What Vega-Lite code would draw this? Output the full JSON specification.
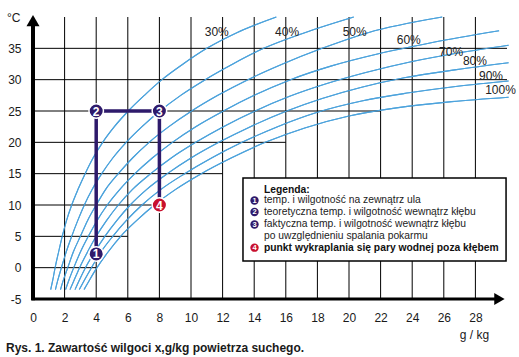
{
  "$schema": "https://vega.github.io/schema/vega-lite/v6.json",
  "width": 474,
  "height": 282,
  "autosize": {"type": "none"},
  "padding": {"left": 33, "top": 17, "right": 12, "bottom": 58},
  "background": "white",
  "config": {
    "view": {"stroke": null},
    "font": "Liberation Sans",
    "text": {"font": "Liberation Sans"}
  },
  "resolve": {"axis": {"x": "independent", "y": "independent"}},
  "datasets": {
    "curves": [
      {"rh": "30%", "x": 1.12, "t": -3.5}, {"rh": "30%", "x": 1.25, "t": -2}, {"rh": "30%", "x": 1.4, "t": 0}, {"rh": "30%", "x": 1.62, "t": 2.5}, {"rh": "30%", "x": 1.85, "t": 5}, {"rh": "30%", "x": 2.12, "t": 7.5}, {"rh": "30%", "x": 2.45, "t": 10}, {"rh": "30%", "x": 2.85, "t": 12.5}, {"rh": "30%", "x": 3.3, "t": 15}, {"rh": "30%", "x": 3.8, "t": 17.5}, {"rh": "30%", "x": 4.41, "t": 20}, {"rh": "30%", "x": 5.15, "t": 22.5}, {"rh": "30%", "x": 6.03, "t": 25}, {"rh": "30%", "x": 7.05, "t": 27.5}, {"rh": "30%", "x": 8.16, "t": 30}, {"rh": "30%", "x": 9.5, "t": 32.5}, {"rh": "30%", "x": 11.0, "t": 35}, {"rh": "30%", "x": 12.9, "t": 37.5}, {"rh": "30%", "x": 15.4, "t": 40},
      {"rh": "40%", "x": 1.42, "t": -3.5}, {"rh": "40%", "x": 1.57, "t": -2}, {"rh": "40%", "x": 1.8, "t": 0}, {"rh": "40%", "x": 2.1, "t": 2.5}, {"rh": "40%", "x": 2.45, "t": 5}, {"rh": "40%", "x": 2.83, "t": 7.5}, {"rh": "40%", "x": 3.25, "t": 10}, {"rh": "40%", "x": 3.75, "t": 12.5}, {"rh": "40%", "x": 4.35, "t": 15}, {"rh": "40%", "x": 5.05, "t": 17.5}, {"rh": "40%", "x": 5.9, "t": 20}, {"rh": "40%", "x": 6.9, "t": 22.5}, {"rh": "40%", "x": 8.03, "t": 25}, {"rh": "40%", "x": 9.35, "t": 27.5}, {"rh": "40%", "x": 10.9, "t": 30}, {"rh": "40%", "x": 12.65, "t": 32.5}, {"rh": "40%", "x": 14.6, "t": 35}, {"rh": "40%", "x": 17.2, "t": 37.5}, {"rh": "40%", "x": 20.3, "t": 40},
      {"rh": "50%", "x": 1.74, "t": -3.5}, {"rh": "50%", "x": 1.92, "t": -2}, {"rh": "50%", "x": 2.2, "t": 0}, {"rh": "50%", "x": 2.55, "t": 2.5}, {"rh": "50%", "x": 3.0, "t": 5}, {"rh": "50%", "x": 3.45, "t": 7.5}, {"rh": "50%", "x": 4.0, "t": 10}, {"rh": "50%", "x": 4.6, "t": 12.5}, {"rh": "50%", "x": 5.4, "t": 15}, {"rh": "50%", "x": 6.3, "t": 17.5}, {"rh": "50%", "x": 7.35, "t": 20}, {"rh": "50%", "x": 8.6, "t": 22.5}, {"rh": "50%", "x": 10.04, "t": 25}, {"rh": "50%", "x": 11.7, "t": 27.5}, {"rh": "50%", "x": 13.6, "t": 30}, {"rh": "50%", "x": 15.8, "t": 32.5}, {"rh": "50%", "x": 18.3, "t": 35}, {"rh": "50%", "x": 21.2, "t": 37.5}, {"rh": "50%", "x": 25.9, "t": 40},
      {"rh": "60%", "x": 2.06, "t": -3.5}, {"rh": "60%", "x": 2.27, "t": -2}, {"rh": "60%", "x": 2.58, "t": 0}, {"rh": "60%", "x": 3.0, "t": 2.5}, {"rh": "60%", "x": 3.5, "t": 5}, {"rh": "60%", "x": 4.05, "t": 7.5}, {"rh": "60%", "x": 4.7, "t": 10}, {"rh": "60%", "x": 5.5, "t": 12.5}, {"rh": "60%", "x": 6.45, "t": 15}, {"rh": "60%", "x": 7.55, "t": 17.5}, {"rh": "60%", "x": 8.82, "t": 20}, {"rh": "60%", "x": 10.3, "t": 22.5}, {"rh": "60%", "x": 12.05, "t": 25}, {"rh": "60%", "x": 14.0, "t": 27.5}, {"rh": "60%", "x": 16.3, "t": 30}, {"rh": "60%", "x": 18.9, "t": 32.2}, {"rh": "60%", "x": 21.8, "t": 34.1}, {"rh": "60%", "x": 25.2, "t": 35.9}, {"rh": "60%", "x": 29.5, "t": 37.8},
      {"rh": "70%", "x": 2.34, "t": -3.5}, {"rh": "70%", "x": 2.6, "t": -2}, {"rh": "70%", "x": 2.95, "t": 0}, {"rh": "70%", "x": 3.45, "t": 2.5}, {"rh": "70%", "x": 4.0, "t": 5}, {"rh": "70%", "x": 4.65, "t": 7.5}, {"rh": "70%", "x": 5.4, "t": 10}, {"rh": "70%", "x": 6.3, "t": 12.5}, {"rh": "70%", "x": 7.45, "t": 15}, {"rh": "70%", "x": 8.75, "t": 17.5}, {"rh": "70%", "x": 10.3, "t": 20}, {"rh": "70%", "x": 12.05, "t": 22.5}, {"rh": "70%", "x": 14.06, "t": 25}, {"rh": "70%", "x": 16.2, "t": 27.3}, {"rh": "70%", "x": 18.5, "t": 29.3}, {"rh": "70%", "x": 21.0, "t": 31.1}, {"rh": "70%", "x": 24.0, "t": 32.9}, {"rh": "70%", "x": 27.0, "t": 34.3}, {"rh": "70%", "x": 30.1, "t": 35.5},
      {"rh": "80%", "x": 2.66, "t": -3.5}, {"rh": "80%", "x": 2.93, "t": -2}, {"rh": "80%", "x": 3.32, "t": 0}, {"rh": "80%", "x": 3.9, "t": 2.5}, {"rh": "80%", "x": 4.55, "t": 5}, {"rh": "80%", "x": 5.3, "t": 7.5}, {"rh": "80%", "x": 6.15, "t": 10}, {"rh": "80%", "x": 7.2, "t": 12.5}, {"rh": "80%", "x": 8.5, "t": 15}, {"rh": "80%", "x": 10.0, "t": 17.5}, {"rh": "80%", "x": 11.76, "t": 20}, {"rh": "80%", "x": 13.76, "t": 22.5}, {"rh": "80%", "x": 16.06, "t": 25}, {"rh": "80%", "x": 18.3, "t": 27}, {"rh": "80%", "x": 20.8, "t": 28.8}, {"rh": "80%", "x": 23.5, "t": 30.3}, {"rh": "80%", "x": 26.8, "t": 31.6}, {"rh": "80%", "x": 30.1, "t": 32.7},
      {"rh": "90%", "x": 2.93, "t": -3.5}, {"rh": "90%", "x": 3.25, "t": -2}, {"rh": "90%", "x": 3.7, "t": 0}, {"rh": "90%", "x": 4.3, "t": 2.5}, {"rh": "90%", "x": 5.05, "t": 5}, {"rh": "90%", "x": 5.9, "t": 7.5}, {"rh": "90%", "x": 6.9, "t": 10}, {"rh": "90%", "x": 8.1, "t": 12.5}, {"rh": "90%", "x": 9.6, "t": 15}, {"rh": "90%", "x": 11.3, "t": 17.5}, {"rh": "90%", "x": 13.23, "t": 20}, {"rh": "90%", "x": 15.48, "t": 22.5}, {"rh": "90%", "x": 18.0, "t": 24.8}, {"rh": "90%", "x": 20.8, "t": 26.6}, {"rh": "90%", "x": 23.8, "t": 27.9}, {"rh": "90%", "x": 27.0, "t": 29.0}, {"rh": "90%", "x": 30.1, "t": 29.8},
      {"rh": "100%", "x": 3.23, "t": -3.5}, {"rh": "100%", "x": 3.57, "t": -2}, {"rh": "100%", "x": 4.05, "t": 0}, {"rh": "100%", "x": 4.75, "t": 2.5}, {"rh": "100%", "x": 5.55, "t": 5}, {"rh": "100%", "x": 6.55, "t": 7.5}, {"rh": "100%", "x": 7.68, "t": 10}, {"rh": "100%", "x": 9.03, "t": 12.5}, {"rh": "100%", "x": 10.65, "t": 15}, {"rh": "100%", "x": 12.54, "t": 17.5}, {"rh": "100%", "x": 14.7, "t": 20}, {"rh": "100%", "x": 17.2, "t": 22.3}, {"rh": "100%", "x": 20.0, "t": 24.2}, {"rh": "100%", "x": 23.0, "t": 25.5}, {"rh": "100%", "x": 26.5, "t": 26.5}, {"rh": "100%", "x": 30.1, "t": 27.2}
    ],
    "vgrid": [{"x": 2}, {"x": 4}, {"x": 6}, {"x": 8}, {"x": 10}, {"x": 12}, {"x": 14}, {"x": 16}, {"x": 18}, {"x": 20}, {"x": 22}, {"x": 24}, {"x": 26}, {"x": 28}],
    "hgrid": [{"t": 0, "xe": 4}, {"t": 5, "xe": 6}, {"t": 10, "xe": 8}, {"t": 15, "xe": 12}, {"t": 20, "xe": 16}, {"t": 25, "xe": 22}, {"t": 30, "xe": 30}, {"t": 35, "xe": 30}],
    "path": [{"o": 1, "x": 4, "t": 2.2}, {"o": 2, "x": 4, "t": 25}, {"o": 3, "x": 8, "t": 25}, {"o": 4, "x": 8, "t": 10}],
    "points": [{"n": "1", "x": 4, "t": 2.2, "k": "a"}, {"n": "2", "x": 4, "t": 25, "k": "a"}, {"n": "3", "x": 8, "t": 25, "k": "a"}, {"n": "4", "x": 8, "t": 10, "k": "b"}],
    "clabels": [{"l": "30%", "x": 11.63, "t": 37.65}, {"l": "40%", "x": 16.08, "t": 37.65}, {"l": "50%", "x": 20.36, "t": 37.65}, {"l": "60%", "x": 23.78, "t": 36.33}, {"l": "70%", "x": 26.46, "t": 34.46}, {"l": "80%", "x": 27.97, "t": 32.98}, {"l": "90%", "x": 28.99, "t": 30.59}, {"l": "100%", "x": 29.59, "t": 28.35}],
    "legend": [{"n": "1", "k": "a", "t": 10.72}, {"n": "2", "k": "a", "t": 8.89}, {"n": "3", "k": "a", "t": 6.89}, {"n": "4", "k": "b", "t": 3.19}],
    "one": [{"id": 1}]
  },
  "layer": [
    {
      "data": {"name": "curves"},
      "mark": {"type": "line", "color": "#4da3dc", "strokeWidth": 1.1, "interpolate": "monotone"},
      "encoding": {
        "x": {"field": "x", "type": "quantitative", "scale": {"domain": [0, 30], "nice": false, "zero": false},
          "axis": {"values": [0, 2, 4, 6, 8, 10, 12, 14, 16, 18, 20, 22, 24, 26, 28], "domain": false, "ticks": false, "grid": false, "labelPadding": 13, "labelFontSize": 12, "labelFont": "Liberation Sans", "labelColor": "#1a1a1a", "labelFlush": false, "labelOverlap": false, "title": null}},
        "y": {"field": "t", "type": "quantitative", "scale": {"domain": [-5, 40], "nice": false, "zero": false},
          "axis": {"values": [-5, 0, 5, 10, 15, 20, 25, 30, 35], "labelExpr": "'' + datum.value", "domain": false, "ticks": false, "grid": false, "labelPadding": 12, "labelFontSize": 12, "labelFont": "Liberation Sans", "labelColor": "#1a1a1a", "labelFlush": false, "labelOverlap": false, "title": null}},
        "detail": {"field": "rh", "type": "nominal"},
        "order": {"field": "t", "type": "quantitative"}
      }
    },
    {
      "data": {"name": "vgrid"},
      "mark": {"type": "rule", "color": "black", "strokeWidth": 1},
      "encoding": {
        "x": {"field": "x", "type": "quantitative", "scale": {"domain": [0, 30], "nice": false, "zero": false}, "axis": null},
        "y": {"datum": -5, "type": "quantitative", "scale": {"domain": [-5, 40], "nice": false, "zero": false}, "axis": null},
        "y2": {"datum": 40}
      }
    },
    {
      "data": {"name": "hgrid"},
      "mark": {"type": "rule", "color": "black", "strokeWidth": 1},
      "encoding": {
        "y": {"field": "t", "type": "quantitative", "scale": {"domain": [-5, 40], "nice": false, "zero": false}, "axis": null},
        "x": {"field": "xe", "type": "quantitative", "scale": {"domain": [0, 30], "nice": false, "zero": false}, "axis": null},
        "x2": {"datum": 0}
      }
    },
    {
      "data": {"name": "curves"},
      "mark": {"type": "line", "color": "#4da3dc", "strokeWidth": 1.1, "interpolate": "monotone"},
      "encoding": {
        "x": {"field": "x", "type": "quantitative", "scale": {"domain": [0, 30], "nice": false, "zero": false}, "axis": null},
        "y": {"field": "t", "type": "quantitative", "scale": {"domain": [-5, 40], "nice": false, "zero": false}, "axis": null},
        "detail": {"field": "rh", "type": "nominal"},
        "order": {"field": "t", "type": "quantitative"}
      }
    },
    {
      "data": {"name": "clabels"},
      "mark": {"type": "text", "fontSize": 12, "color": "#222", "align": "center", "baseline": "middle"},
      "encoding": {
        "x": {"field": "x", "type": "quantitative", "scale": {"domain": [0, 30], "nice": false, "zero": false}, "axis": null},
        "y": {"field": "t", "type": "quantitative", "scale": {"domain": [-5, 40], "nice": false, "zero": false}, "axis": null},
        "text": {"field": "l", "type": "nominal"}
      }
    },
    {
      "data": {"name": "one"},
      "mark": {"type": "rule", "color": "black", "strokeWidth": 4},
      "encoding": {
        "x": {"datum": 0, "type": "quantitative", "scale": {"domain": [0, 30], "nice": false, "zero": false}, "axis": null},
        "y": {"datum": -5.2, "type": "quantitative", "scale": {"domain": [-5, 40], "nice": false, "zero": false}, "axis": null},
        "y2": {"datum": 39}
      }
    },
    {
      "data": {"name": "one"},
      "mark": {"type": "rule", "color": "black", "strokeWidth": 3},
      "encoding": {
        "y": {"datum": -5, "type": "quantitative", "scale": {"domain": [-5, 40], "nice": false, "zero": false}, "axis": null},
        "x": {"datum": -0.1, "type": "quantitative", "scale": {"domain": [0, 30], "nice": false, "zero": false}, "axis": null},
        "x2": {"datum": 29.3}
      }
    },
    {
      "data": {"name": "one"},
      "mark": {"type": "point", "shape": "triangle-up", "filled": true, "color": "black", "size": 170, "opacity": 1},
      "encoding": {
        "x": {"datum": 0, "type": "quantitative", "scale": {"domain": [0, 30], "nice": false, "zero": false}, "axis": null},
        "y": {"datum": 39.43, "type": "quantitative", "scale": {"domain": [-5, 40], "nice": false, "zero": false}, "axis": null}
      }
    },
    {
      "data": {"name": "one"},
      "mark": {"type": "point", "shape": "triangle-right", "filled": true, "color": "black", "size": 144, "opacity": 1},
      "encoding": {
        "x": {"datum": 29.52, "type": "quantitative", "scale": {"domain": [0, 30], "nice": false, "zero": false}, "axis": null},
        "y": {"datum": -5, "type": "quantitative", "scale": {"domain": [-5, 40], "nice": false, "zero": false}, "axis": null}
      }
    },
    {
      "data": {"name": "path"},
      "mark": {"type": "line", "color": "#2e1a6b", "strokeWidth": 3.5},
      "encoding": {
        "x": {"field": "x", "type": "quantitative", "scale": {"domain": [0, 30], "nice": false, "zero": false}, "axis": null},
        "y": {"field": "t", "type": "quantitative", "scale": {"domain": [-5, 40], "nice": false, "zero": false}, "axis": null},
        "order": {"field": "o", "type": "quantitative"}
      }
    },
    {
      "data": {"name": "points"},
      "mark": {"type": "point", "shape": "circle", "filled": true, "size": 210, "stroke": "white", "strokeWidth": 1.5, "opacity": 1},
      "encoding": {
        "x": {"field": "x", "type": "quantitative", "scale": {"domain": [0, 30], "nice": false, "zero": false}, "axis": null},
        "y": {"field": "t", "type": "quantitative", "scale": {"domain": [-5, 40], "nice": false, "zero": false}, "axis": null},
        "fill": {"field": "k", "type": "nominal", "scale": {"domain": ["a", "b"], "range": ["#2e1a6b", "#c8102e"]}, "legend": null}
      }
    },
    {
      "data": {"name": "points"},
      "mark": {"type": "text", "color": "white", "fontSize": 12, "fontWeight": "bold", "align": "center", "baseline": "middle", "dy": 0.5},
      "encoding": {
        "x": {"field": "x", "type": "quantitative", "scale": {"domain": [0, 30], "nice": false, "zero": false}, "axis": null},
        "y": {"field": "t", "type": "quantitative", "scale": {"domain": [-5, 40], "nice": false, "zero": false}, "axis": null},
        "text": {"field": "n", "type": "nominal"}
      }
    },
    {
      "data": {"name": "one"},
      "mark": {"type": "rect", "fill": "white", "stroke": "black", "strokeWidth": 1.5},
      "encoding": {
        "x": {"datum": 13.29, "type": "quantitative", "scale": {"domain": [0, 30], "nice": false, "zero": false}, "axis": null},
        "x2": {"datum": 29.94},
        "y": {"datum": 1.07, "type": "quantitative", "scale": {"domain": [-5, 40], "nice": false, "zero": false}, "axis": null},
        "y2": {"datum": 14.31}
      }
    },
    {
      "data": {"name": "one"},
      "mark": {"type": "text", "text": "Legenda:", "fontSize": 10.3, "fontWeight": "bold", "align": "left", "baseline": "middle", "color": "#111"},
      "encoding": {
        "x": {"datum": 14.62, "type": "quantitative", "scale": {"domain": [0, 30], "nice": false, "zero": false}, "axis": null},
        "y": {"datum": 12.39, "type": "quantitative", "scale": {"domain": [-5, 40], "nice": false, "zero": false}, "axis": null}
      }
    },
    {
      "data": {"name": "one"},
      "mark": {"type": "text", "text": "temp. i wilgotność na zewnątrz ula", "fontSize": 10.3, "align": "left", "baseline": "middle", "color": "#222"},
      "encoding": {
        "x": {"datum": 14.62, "type": "quantitative", "scale": {"domain": [0, 30], "nice": false, "zero": false}, "axis": null},
        "y": {"datum": 10.72, "type": "quantitative", "scale": {"domain": [-5, 40], "nice": false, "zero": false}, "axis": null}
      }
    },
    {
      "data": {"name": "one"},
      "mark": {"type": "text", "text": "teoretyczna temp. i wilgotność wewnątrz kłębu", "fontSize": 10.3, "align": "left", "baseline": "middle", "color": "#222"},
      "encoding": {
        "x": {"datum": 14.62, "type": "quantitative", "scale": {"domain": [0, 30], "nice": false, "zero": false}, "axis": null},
        "y": {"datum": 8.89, "type": "quantitative", "scale": {"domain": [-5, 40], "nice": false, "zero": false}, "axis": null}
      }
    },
    {
      "data": {"name": "one"},
      "mark": {"type": "text", "text": "faktyczna temp. i wilgotność wewnątrz kłębu", "fontSize": 10.3, "align": "left", "baseline": "middle", "color": "#222"},
      "encoding": {
        "x": {"datum": 14.62, "type": "quantitative", "scale": {"domain": [0, 30], "nice": false, "zero": false}, "axis": null},
        "y": {"datum": 6.89, "type": "quantitative", "scale": {"domain": [-5, 40], "nice": false, "zero": false}, "axis": null}
      }
    },
    {
      "data": {"name": "one"},
      "mark": {"type": "text", "text": "po uwzględnieniu spalania pokarmu", "fontSize": 10.3, "align": "left", "baseline": "middle", "color": "#222"},
      "encoding": {
        "x": {"datum": 14.62, "type": "quantitative", "scale": {"domain": [0, 30], "nice": false, "zero": false}, "axis": null},
        "y": {"datum": 5.1, "type": "quantitative", "scale": {"domain": [-5, 40], "nice": false, "zero": false}, "axis": null}
      }
    },
    {
      "data": {"name": "one"},
      "mark": {"type": "text", "text": "punkt wykraplania się pary wodnej poza kłębem", "fontSize": 10.3, "fontWeight": "bold", "align": "left", "baseline": "middle", "color": "#111"},
      "encoding": {
        "x": {"datum": 14.62, "type": "quantitative", "scale": {"domain": [0, 30], "nice": false, "zero": false}, "axis": null},
        "y": {"datum": 3.19, "type": "quantitative", "scale": {"domain": [-5, 40], "nice": false, "zero": false}, "axis": null}
      }
    },
    {
      "data": {"name": "legend"},
      "mark": {"type": "point", "shape": "circle", "filled": true, "size": 70, "opacity": 1},
      "encoding": {
        "x": {"datum": 14.02, "type": "quantitative", "scale": {"domain": [0, 30], "nice": false, "zero": false}, "axis": null},
        "y": {"field": "t", "type": "quantitative", "scale": {"domain": [-5, 40], "nice": false, "zero": false}, "axis": null},
        "fill": {"field": "k", "type": "nominal", "scale": {"domain": ["a", "b"], "range": ["#2e1a6b", "#c8102e"]}, "legend": null}
      }
    },
    {
      "data": {"name": "legend"},
      "mark": {"type": "text", "color": "white", "fontSize": 7.5, "fontWeight": "bold", "align": "center", "baseline": "middle", "dy": 0.5},
      "encoding": {
        "x": {"datum": 14.02, "type": "quantitative", "scale": {"domain": [0, 30], "nice": false, "zero": false}, "axis": null},
        "y": {"field": "t", "type": "quantitative", "scale": {"domain": [-5, 40], "nice": false, "zero": false}, "axis": null},
        "text": {"field": "n", "type": "nominal"}
      }
    },
    {
      "data": {"name": "one"},
      "mark": {"type": "text", "text": "°C", "fontSize": 12, "align": "center", "baseline": "middle", "color": "#1a1a1a"},
      "encoding": {
        "x": {"datum": -1.22, "type": "quantitative", "scale": {"domain": [0, 30], "nice": false, "zero": false}, "axis": null},
        "y": {"datum": 39.92, "type": "quantitative", "scale": {"domain": [-5, 40], "nice": false, "zero": false}, "axis": null}
      }
    },
    {
      "data": {"name": "one"},
      "mark": {"type": "text", "text": "g / kg", "fontSize": 12, "align": "center", "baseline": "middle", "color": "#1a1a1a"},
      "encoding": {
        "x": {"datum": 27.94, "type": "quantitative", "scale": {"domain": [0, 30], "nice": false, "zero": false}, "axis": null},
        "y": {"datum": -10.74, "type": "quantitative", "scale": {"domain": [-5, 40], "nice": false, "zero": false}, "axis": null}
      }
    },
    {
      "data": {"name": "one"},
      "mark": {"type": "text", "text": "Rys. 1. Zawartość wilgoci x,g/kg powietrza suchego.", "fontSize": 12, "fontWeight": "bold", "align": "left", "baseline": "middle", "color": "#1a1a1a"},
      "encoding": {
        "x": {"datum": -1.71, "type": "quantitative", "scale": {"domain": [0, 30], "nice": false, "zero": false}, "axis": null},
        "y": {"datum": -12.82, "type": "quantitative", "scale": {"domain": [-5, 40], "nice": false, "zero": false}, "axis": null}
      }
    }
  ]
}
